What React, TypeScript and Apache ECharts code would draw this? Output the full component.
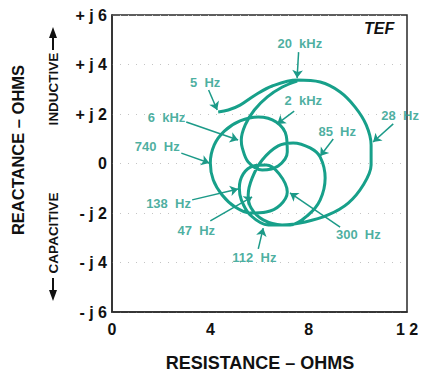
import React, { useEffect, useRef } from 'react';
import * as echarts from 'echarts';

// Impedance trace (resistance, reactance) in ohms, 5 Hz -> 20 kHz
const curveResistance = [4.32, 4.73, 5.21, 5.83, 6.52, 7.53, 8.47, 9.28, 9.89, 10.34, 10.54, 10.54, 10.22, 9.61, 8.79, 7.86, 6.92, 6.15, 5.66, 5.54, 5.70, 6.11, 6.76, 7.37, 8.06, 8.47, 8.67, 8.47, 7.98, 7.25, 6.36, 5.62, 5.26, 5.18, 5.34, 5.75, 6.27, 6.80, 7.13, 6.84, 6.27, 5.62, 5.01, 4.48, 4.12, 4.00, 4.16, 4.57, 5.21, 5.95, 6.68, 7.09, 7.13, 6.76, 6.11, 5.54, 5.30, 5.26, 5.42, 5.79, 6.32, 6.93, 7.53];
const curveReactance = [2.08, 2.16, 2.36, 2.77, 3.13, 3.37, 3.29, 2.89, 2.28, 1.56, 0.75, -0.06, -0.87, -1.60, -2.08, -2.36, -2.48, -2.28, -1.80, -1.27, -0.59, 0.14, 0.71, 0.83, 0.63, 0.26, -0.59, -1.47, -2.08, -2.48, -2.48, -2.08, -1.47, -0.99, -0.42, -0.10, -0.06, -0.42, -1.15, -1.68, -1.96, -2.0, -1.76, -1.27, -0.67, 0.02, 0.75, 1.31, 1.72, 1.88, 1.68, 1.11, 0.46, -0.10, -0.26, 0.06, 0.63, 0.95, 1.56, 2.16, 2.69, 3.09, 3.33];

// Frequency annotations
const freqLabels = ['5  Hz', '20  kHz', '2  kHz', '6  kHz', '28  Hz', '85  Hz', '740  Hz', '138  Hz', '47  Hz', '112  Hz', '300  Hz'];
const labelR = [3.79, 7.64, 7.78, 2.22, 11.72, 9.16, 1.84, 2.3, 3.43, 5.79, 10.02];
const labelX = [3.29, 4.83, 2.53, 1.84, 1.92, 1.31, 0.67, -1.6, -2.69, -3.78, -2.85];
const arrowFromR = [3.93, 7.59, 7.41, 3.02, 11.44, 9.0, 2.82, 3.26, 4.0, 5.95, 9.28];
const arrowFromX = [2.97, 4.5, 2.12, 1.68, 1.6, 0.99, 0.42, -1.47, -2.32, -3.45, -2.57];
const arrowToR = [4.28, 7.53, 6.72, 5.13, 10.62, 8.47, 3.96, 5.13, 5.70, 6.15, 7.24];
const arrowToX = [2.16, 3.45, 1.6, 0.95, 0.87, 0.3, 0.02, -1.03, -1.35, -2.61, -1.19];

// Axis ticks
const xTickValues = [0, 4, 8, 12];
const xTickLabels = ['0', '4', '8', '1 2'];
const yTickValues = [-6, -4, -2, 0, 2, 4, 6];
const yTickLabels = ['- j 6', '- j 4', '- j 2', '0', '+ j 2', '+ j 4', '+ j 6'];

const TEAL = '#17a08a';
const LABEL = '#1c9a88';
const FONT = '"Liberation Sans", Arial, Helvetica, sans-serif';

export default function App() {
  const ref = useRef<HTMLDivElement>(null);
  useEffect(() => {
    if (!ref.current) return;
    const chart = echarts.init(ref.current, undefined, { renderer: 'svg' });
    const curve = curveResistance.map((r, i) => [r, curveReactance[i]]);
    const labels = freqLabels.map((t, i) => ({ value: [labelR[i], labelX[i]], name: t }));
    const arrows = freqLabels.map((t, i) => ({
      coords: [[arrowFromR[i], arrowFromX[i]], [arrowToR[i], arrowToX[i]]],
    }));
    chart.setOption({
      animation: false,
      grid: { left: 112, right: 15, top: 15, bottom: 61, show: true, borderColor: '#2a2a2a', borderWidth: 1.5 },
      xAxis: {
        type: 'value', min: 0, max: 12, interval: 4,
        axisLine: { show: true, onZero: false, lineStyle: { color: '#2a2a2a', width: 1.5 } },
        axisTick: { show: false },
        splitLine: { show: false },
        axisLabel: {
          margin: 9, color: '#111', fontSize: 16, fontWeight: 'bold', fontFamily: FONT,
          formatter: (v: number) => { const k = xTickValues.indexOf(v); return k >= 0 ? xTickLabels[k] : ''; },
        },
      },
      yAxis: {
        type: 'value', min: -6, max: 6, interval: 2,
        axisLine: { show: true, onZero: false, lineStyle: { color: '#2a2a2a', width: 1.5 } },
        axisTick: { show: false },
        splitLine: { show: true, lineStyle: { color: '#c4c4c4', width: 1, type: [1, 7] } },
        axisLabel: {
          margin: 5, color: '#111', fontSize: 16, fontWeight: 'bold', fontFamily: FONT,
          formatter: (v: number) => { const k = yTickValues.indexOf(v); return k >= 0 ? yTickLabels[k] : ''; },
        },
      },
      series: [
        {
          type: 'line', data: curve, smooth: 0.35, showSymbol: false, symbol: 'none',
          lineStyle: { color: TEAL, width: 3 }, z: 3,
        },
        {
          type: 'lines', coordinateSystem: 'cartesian2d', data: arrows,
          symbol: ['none', 'arrow'], symbolSize: [0, 8],
          lineStyle: { color: LABEL, width: 1.5, opacity: 1 }, z: 4,
        },
        {
          type: 'scatter', data: labels, symbolSize: 0, clip: false,
          label: {
            show: true, position: 'inside', formatter: (p: any) => p.name,
            color: LABEL, fontSize: 13, fontWeight: 'bold', fontFamily: FONT,
          },
          z: 5,
        },
      ],
      graphic: [
        { type: 'text', left: 364, top: 20, style: { text: 'TEF', fill: '#111', font: `italic bold 16px ${FONT}` } },
        { type: 'text', x: 260, y: 363, style: { text: 'RESISTANCE – OHMS', fill: '#111', font: `bold 18px ${FONT}`, align: 'center', verticalAlign: 'middle' } },
        { type: 'text', x: 18, y: 150, rotation: Math.PI / 2, style: { text: 'REACTANCE – OHMS', fill: '#111', font: `bold 16.5px ${FONT}`, align: 'center', verticalAlign: 'middle' } },
        { type: 'text', x: 53, y: 89, rotation: Math.PI / 2, style: { text: 'INDUCTIVE', fill: '#111', font: `bold 13.5px ${FONT}`, align: 'center', verticalAlign: 'middle' } },
        { type: 'line', shape: { x1: 53, y1: 50, x2: 53, y2: 36 }, style: { stroke: '#111', lineWidth: 2 } },
        { type: 'polygon', shape: { points: [[53, 27], [49, 38], [57, 38]] }, style: { fill: '#111' } },
        { type: 'text', x: 53, y: 233, rotation: Math.PI / 2, style: { text: 'CAPACITIVE', fill: '#111', font: `bold 13.5px ${FONT}`, align: 'center', verticalAlign: 'middle' } },
        { type: 'line', shape: { x1: 53, y1: 278, x2: 53, y2: 292 }, style: { stroke: '#111', lineWidth: 2 } },
        { type: 'polygon', shape: { points: [[53, 301], [49, 290], [57, 290]] }, style: { fill: '#111' } },
      ],
    });
    return () => chart.dispose();
  }, []);
  return <div ref={ref} style={{ position: 'fixed', left: 0, top: 0, width: 422, height: 373, background: '#fff' }} />;
}
